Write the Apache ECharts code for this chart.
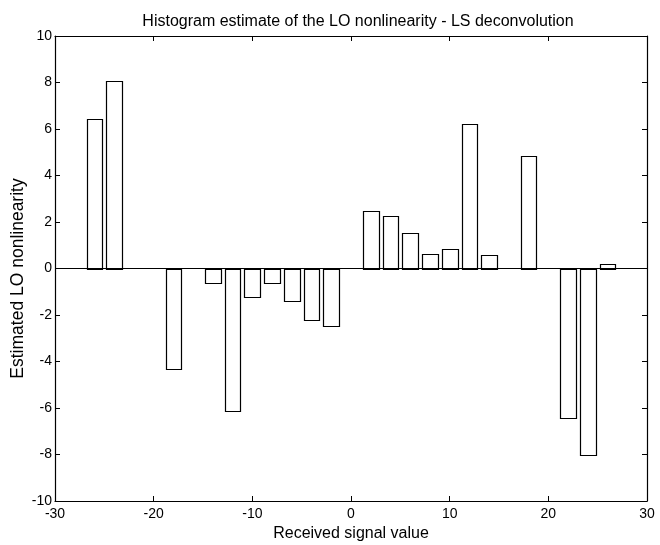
<!DOCTYPE html>
<html><head><meta charset="utf-8">
<script src="https://cdn.jsdelivr.net/npm/echarts@6/dist/echarts.min.js"></script>
<style>html,body{margin:0;padding:0;background:#fff}#c{width:660px;height:545px}</style>
</head><body><div id="c"></div>
<script>
var binCenters = [-26,-24,-22,-20,-18,-16,-14,-12,-10,-8,-6,-4,-2,0,2,4,6,8,10,12,14,16,18,20,22,24,26];
var binValues  = [6.42,8.07,0,0,-4.33,0,-0.64,-6.12,-1.23,-0.63,-1.39,-2.22,-2.46,0,2.46,2.27,1.53,0.61,0.86,6.21,0.58,0,4.82,0,-6.42,-8.04,0.2];
var xTicks = [-30,-20,-10,0,10,20,30];
var yTicks = [-10,-8,-6,-4,-2,0,2,4,6,8,10];
var barHalfWidth = 0.8;

var data = binCenters.map(function(c,i){return [c, binValues[i]];});
var font = 'Liberation Sans, Arial, sans-serif';
var chart = echarts.init(document.getElementById('c'), null, {renderer:'canvas'});
function axisX(pos, show){
  return {type:'value', position:pos, min:xTicks[0], max:xTicks[xTicks.length-1], interval:xTicks[1]-xTicks[0],
    axisLine:{show:true, onZero:false, lineStyle:{color:'#000', width:1.2}},
    axisTick:{show:true, inside:true, length:5, lineStyle:{color:'#000'}},
    axisLabel:{show:show, color:'#000', fontFamily:font, fontSize:14, margin:6},
    splitLine:{show:false}};
}
function axisY(pos, show){
  return {type:'value', position:pos, min:yTicks[0], max:yTicks[yTicks.length-1], interval:yTicks[1]-yTicks[0],
    axisLine:{show:true, onZero:false, lineStyle:{color:'#000', width:1.2}},
    axisTick:{show:true, inside:true, length:5, lineStyle:{color:'#000'}},
    axisLabel:{show:show, color:'#000', fontFamily:font, fontSize:14, margin:3},
    splitLine:{show:false}};
}
var xa = axisX('bottom', true);
xa.name = 'Received signal value'; xa.nameLocation = 'middle'; xa.nameGap = 24;
xa.nameTextStyle = {color:'#000', fontFamily:font, fontSize:16};
var ya = axisY('left', true);
ya.name = 'Estimated LO nonlinearity'; ya.nameLocation = 'middle'; ya.nameGap = 28;
ya.nameMoveOverlap = false;
ya.nameTextStyle = {color:'#000', fontFamily:font, fontSize:17.5, padding:[0,20,0,0]};
var xt = axisX('top', false);
var yr = axisY('right', false);

chart.setOption({
  backgroundColor:'#fff',
  animation:false,
  title:{text:'Histogram estimate of the LO nonlinearity - LS deconvolution', left:353, top:9, textAlign:'center',
    textStyle:{color:'#000', fontFamily:font, fontSize:16, fontWeight:'normal'}},
  grid:{left:55, right:13, top:36, bottom:44, containLabel:false, outerBoundsMode:'none'},
  xAxis:[xa, xt],
  yAxis:[ya, yr],
  series:[{
    type:'custom', xAxisIndex:0, yAxisIndex:0,
    data:data,
    renderItem:function(params, api){
      var c = api.value(0), v = api.value(1);
      if (v === 0) return null;
      var p1 = api.coord([c - barHalfWidth, v]);
      var p2 = api.coord([c + barHalfWidth, 0]);
      var x = Math.round(p1[0])+0.5, x2 = Math.round(p2[0])+0.5;
      var y1 = Math.round(p1[1])+0.5, y2 = Math.round(p2[1])+0.5;
      return {type:'rect', shape:{x:x, y:Math.min(y1,y2), width:x2-x, height:Math.abs(y2-y1)},
        style:{fill:'#fff', stroke:'#000', lineWidth:1.2}};
    },
    markLine:{silent:true, symbol:['none','none'], label:{show:false},
      lineStyle:{color:'#000', type:'solid', width:1.2},
      data:[{yAxis:0}]}
  }]
});
</script></body></html>
